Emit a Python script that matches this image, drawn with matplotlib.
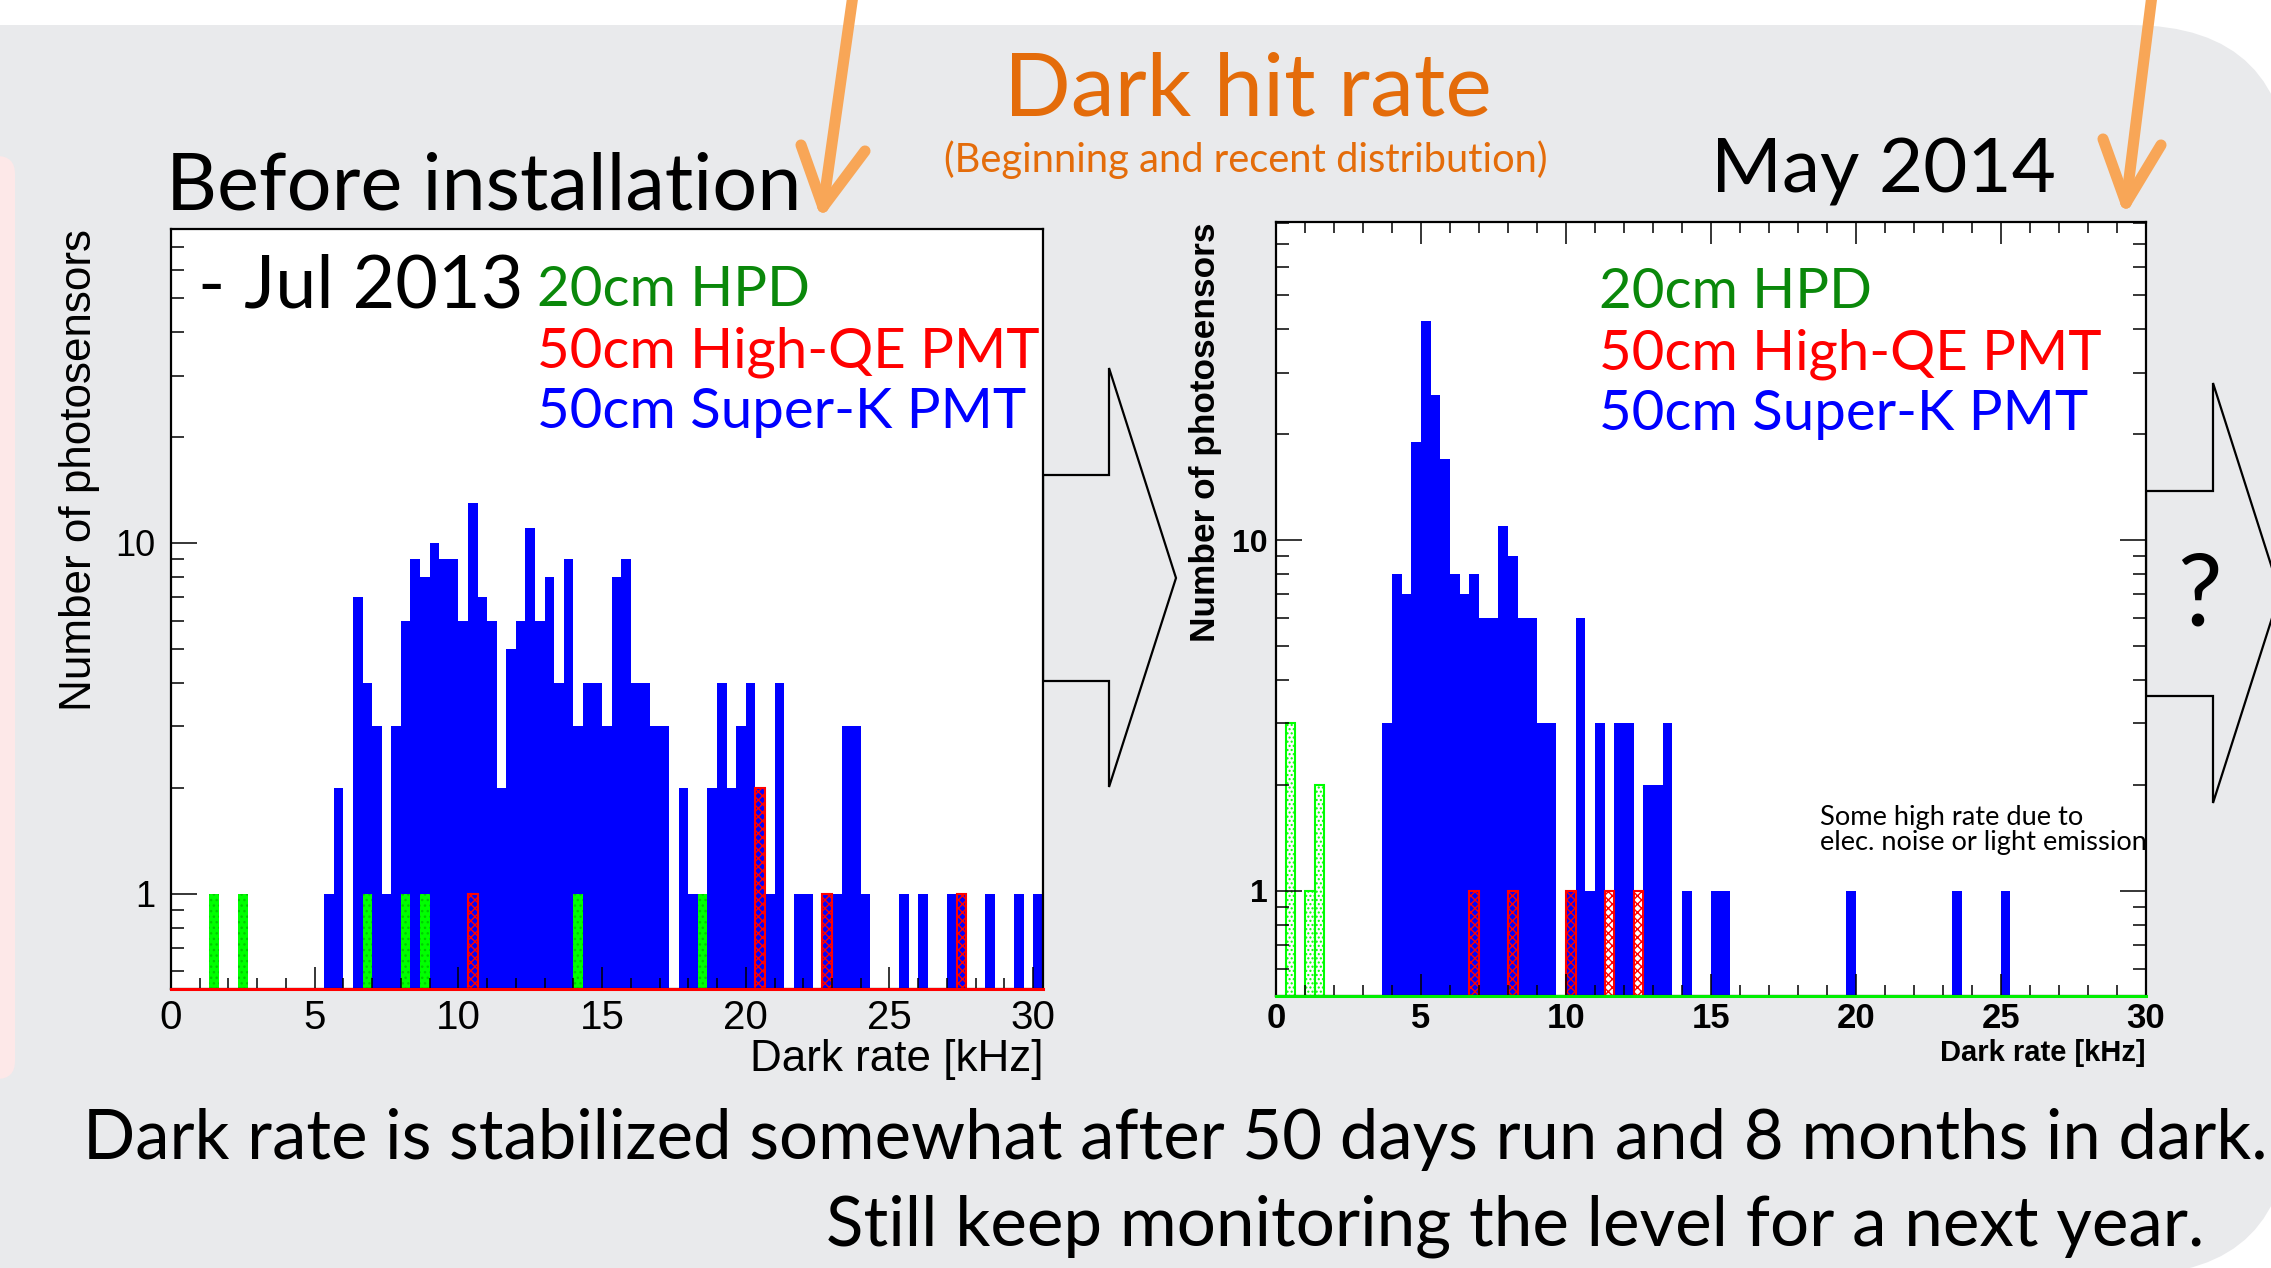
import numpy as np
import matplotlib.pyplot as plt
from matplotlib.patches import FancyBboxPatch, Polygon
from matplotlib.ticker import MultipleLocator, FixedLocator, FixedFormatter, LogLocator, NullFormatter

W, H = 2271, 1268
BIN = 1 / 3  # kHz per histogram bin

# counts per 1/3 kHz bin, starting at 0 kHz
jul13_superk = [
    0, 0, 0, 0, 0, 0, 0, 0, 0, 0,
    0, 0, 0, 0, 0, 0, 1, 2, 0, 7,
    4, 3, 1, 3, 6, 9, 8, 10, 9, 9,
    6, 13, 7, 6, 2, 5, 6, 11, 6, 8,
    4, 9, 3, 4, 4, 3, 8, 9, 4, 4,
    3, 3, 0, 2, 1, 0, 2, 4, 2, 3,
    4, 2, 1, 4, 0, 1, 1, 0, 1, 1,
    3, 3, 1, 0, 0, 0, 1, 0, 1, 0,
    0, 1, 1, 0, 0, 1, 0, 0, 1, 0,
    1,
]
jul13_hpd_bin = [4, 7, 20, 24, 26, 42, 55]
jul13_hpd = [1, 1, 1, 1, 1, 1, 1]
jul13_hqe_bin = [31, 61, 68, 82]
jul13_hqe = [1, 2, 1, 1]

may14_superk = [
    0, 0, 0, 0, 0, 0, 0, 0, 0, 0,
    0, 3, 8, 7, 19, 42, 26, 17, 8, 7,
    8, 6, 6, 11, 9, 6, 6, 3, 3, 0,
    1, 6, 1, 3, 0, 3, 3, 0, 2, 2,
    3, 0, 1, 0, 0, 1, 1, 0, 0, 0,
    0, 0, 0, 0, 0, 0, 0, 0, 0, 1,
    0, 0, 0, 0, 0, 0, 0, 0, 0, 0,
    1, 0, 0, 0, 0, 1, 0, 0, 0, 0,
    0, 0, 0, 0, 0, 0, 0, 0, 0, 0,
]
may14_hpd_bin = [1, 3, 4]
may14_hpd = [3, 1, 2]
may14_hqe_bin = [20, 24, 30, 34, 37]
may14_hqe = [1, 1, 1, 1, 1]

x_ticks = [0, 5, 10, 15, 20, 25, 30]
legend_names = ['20cm HPD', '50cm High-QE PMT', '50cm Super-K PMT']

ORANGE = '#e46c0a'
ARROW = '#f8a657'
GRAY = '#e9eaec'
LEG_COLORS = ['#0a880a', '#ff0000', '#0000ff']
CAL = 'Lato'


def draw_hist(ax, bins, counts, base, **kw):
    x = np.asarray(bins) * BIN
    c = np.asarray(counts, float)
    m = c > 0
    ax.bar(x[m], c[m] - base, width=BIN, bottom=base, align='edge', **kw)


def setup_axes(ax, xmax, ylim, bold, mirror):
    ax.set_yscale('log')
    ax.set_xlim(0, xmax)
    ax.set_ylim(*ylim)
    ax.xaxis.set_major_locator(FixedLocator(x_ticks))
    ax.xaxis.set_minor_locator(MultipleLocator(1))
    ax.yaxis.set_major_locator(FixedLocator([1, 10]))
    ax.yaxis.set_major_formatter(FixedFormatter(['1', '10']))
    ax.yaxis.set_minor_locator(LogLocator(base=10, subs=np.arange(2, 10), numticks=20))
    ax.yaxis.set_minor_formatter(NullFormatter())
    for s in ax.spines.values():
        s.set_linewidth(1.6)
    ax.tick_params(which='both', direction='in', width=1.1, top=mirror, right=mirror)
    ax.tick_params(axis='y', which='major', length=18.5)
    ax.tick_params(axis='y', which='minor', length=9.2)
    ax.tick_params(axis='x', which='major', length=16)
    ax.tick_params(axis='x', which='minor', length=8)
    if bold:
        for lab in ax.get_xticklabels():
            lab.set_family(['Liberation Sans Narrow', 'Liberation Sans'])
            lab.set_fontweight('bold')
            lab.set_fontsize(25)
        for lab in ax.get_yticklabels():
            lab.set_family('Liberation Sans')
            lab.set_fontweight('bold')
            lab.set_fontsize(23)
        ax.tick_params(axis='x', pad=4)
        ax.tick_params(axis='y', pad=6)
    else:
        for lab in ax.get_xticklabels():
            lab.set_family('Liberation Sans')
            lab.set_fontsize(29)
        for lab in ax.get_yticklabels():
            lab.set_family('Liberation Sans')
            lab.set_fontsize(26)
        ax.tick_params(axis='x', pad=7)
        ax.tick_params(axis='y', pad=11)


fig = plt.figure(figsize=(W / 100, H / 100), dpi=100)
fig.patch.set_facecolor('white')

# slide background
bg = fig.add_axes([0, 0, 1, 1], zorder=0)
bg.set_xlim(0, W)
bg.set_ylim(H, 0)
bg.axis('off')
bg.add_patch(FancyBboxPatch((-200, 25), 2490, 1250, boxstyle='round,pad=0,rounding_size=160',
                            facecolor=GRAY, edgecolor='none'))
bg.add_patch(FancyBboxPatch((-40, 156), 55, 923, boxstyle='round,pad=0,rounding_size=18',
                            facecolor='#fde8e8', edgecolor='none'))
# block arrows
bg.add_patch(Polygon([(1043, 475), (1109, 475), (1109, 368), (1176, 578), (1109, 787),
                      (1109, 681), (1043, 681)], closed=True, facecolor=GRAY,
                     edgecolor='black', linewidth=1.6))
bg.add_patch(Polygon([(2146, 491), (2213, 491), (2213, 383), (2280, 593), (2213, 803),
                      (2213, 696), (2146, 696)], closed=True, facecolor=GRAY,
                     edgecolor='black', linewidth=1.6))

# left histogram: before installation - Jul 2013
ax1 = fig.add_axes([170.9 / W, 1 - 989.2 / H, 871.9 / W, 760.4 / H], zorder=1)
ax1.set_facecolor('white')
lo1 = 0.534
draw_hist(ax1, np.arange(len(jul13_superk)), jul13_superk, lo1, color='#0000ff', linewidth=0)
draw_hist(ax1, jul13_hqe_bin, jul13_hqe, lo1, facecolor='none', edgecolor='#ff0000',
          hatch='xxxx', linewidth=1.5)
draw_hist(ax1, jul13_hpd_bin, jul13_hpd, lo1, facecolor='#00ff00', edgecolor='#00cc00',
          hatch='...', linewidth=0)
setup_axes(ax1, 91 * BIN, (lo1, 78.7), bold=False, mirror=False)
ax1.plot([0, 91 * BIN], [lo1, lo1], color='#ff0000', linewidth=2.2, clip_on=False, zorder=3)

# right histogram: May 2014
ax2 = fig.add_axes([1276 / W, 1 - 996.4 / H, 869.7 / W, 774.8 / H], zorder=1)
ax2.set_facecolor('white')
lo2 = 0.5
draw_hist(ax2, np.arange(len(may14_superk)), may14_superk, lo2, color='#0000ff', linewidth=0)
draw_hist(ax2, may14_hqe_bin, may14_hqe, lo2, facecolor='none', edgecolor='#ff0000',
          hatch='xxxx', linewidth=1.5)
draw_hist(ax2, may14_hpd_bin, may14_hpd, lo2, facecolor='none', edgecolor='#00ff00',
          hatch='....', linewidth=1.5)
setup_axes(ax2, 30, (lo2, 80.9), bold=True, mirror=True)
ax2.plot([0, 30], [lo2, lo2], color='#00ee00', linewidth=2.2, clip_on=False, zorder=3)

# text layer
top = fig.add_axes([0, 0, 1, 1], zorder=10)
top.set_xlim(0, W)
top.set_ylim(H, 0)
top.axis('off')

# orange arrows from the top
for shaft, tip, arms in [((853, -5), (823, 207), [(801, 145), (865, 151)]),
                         ((2152, -5), (2126, 203), [(2103, 139), (2161, 145)])]:
    top.plot([shaft[0], tip[0]], [shaft[1], tip[1]], color=ARROW, linewidth=8,
             solid_capstyle='round')
    for a in arms:
        top.plot([a[0], tip[0]], [a[1], tip[1]], color=ARROW, linewidth=8,
                 solid_capstyle='round')

top.text(1004, 116, 'Dark hit rate', color=ORANGE, fontsize=63.3, family=CAL, va='baseline')
top.text(944, 172, '(Beginning and recent distribution)', color=ORANGE, fontsize=28.7,
         family=CAL, va='baseline')
top.text(166, 210, 'Before installation', color='black', fontsize=57, family=CAL, va='baseline')
top.text(198, 307, '- Jul 2013', color='black', fontsize=53, family=CAL, va='baseline')
top.text(1711, 192, 'May 2014', color='black', fontsize=55, family=CAL, va='baseline')

for base_x, base_y in [(537, 306), (1599, 308)]:
    for i, (name, col) in enumerate(zip(legend_names, LEG_COLORS)):
        top.text(base_x, base_y + 61 * i, name, color=col, fontsize=40.6, family=CAL,
                 va='baseline')

top.text(1820, 825, 'Some high rate due to', fontsize=19.6, family=CAL, va='baseline')
top.text(1820, 850, 'elec. noise or light emission', fontsize=19.6, family=CAL, va='baseline')
top.text(2177, 626, '?', fontsize=72, family=CAL, va='baseline')

# axis titles
top.text(80, 229, 'Number of photosensors', rotation=90, ha='center', va='top',
         family='Liberation Sans', fontsize=31.7)
top.text(1043, 1060, 'Dark rate [kHz]', ha='right', va='center', family='Liberation Sans',
         fontsize=31.7)
top.text(1205, 222, 'Number of photosensors', rotation=90, ha='center', va='top',
         family='Liberation Sans', fontweight='bold', fontsize=25.4)
top.text(2145, 1053, 'Dark rate [kHz]', ha='right', va='center', family='Liberation Sans',
         fontweight='bold', fontsize=21)

top.text(83, 1159, 'Dark rate is stabilized somewhat after 50 days run and 8 months in dark.',
         fontsize=49.6, family=CAL, va='baseline')
top.text(826, 1245, 'Still keep monitoring the level for a next year.', fontsize=49.8,
         family=CAL, va='baseline')

fig.savefig('out.png', dpi=100)
